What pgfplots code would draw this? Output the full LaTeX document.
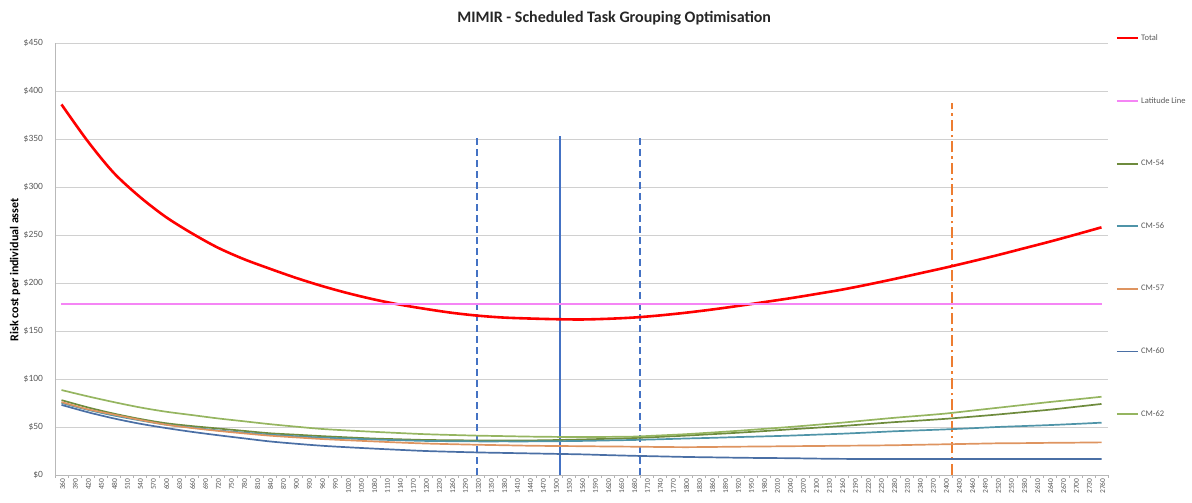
\documentclass[border=0pt]{standalone}
\usepackage{fontspec}
\setmainfont{Carlito}
\usepackage{pgfplots}
\usepackage{pgfplotstable}
\pgfplotsset{compat=1.18}
\definecolor{cmfiftyfour}{HTML}{6E8B3D}
\definecolor{cmfiftysix}{HTML}{4F94A8}
\definecolor{cmfiftyseven}{HTML}{DE9460}
\definecolor{cmsixty}{HTML}{4A6FA5}
\definecolor{cmsixtytwo}{HTML}{95B560}
\definecolor{latpink}{HTML}{F585F5}
\definecolor{vblue}{HTML}{4472C4}
\definecolor{vorange}{HTML}{ED7D31}
\definecolor{gridgray}{HTML}{D0D0D0}
\definecolor{txtgray}{HTML}{595959}

\pgfplotstableread{
x tot c54 c56 c57 c60 c62
360 386 78 75 76 73 88.5
420 348 70.5 68 68.5 65.5 82
480 315 64 62 63 59 76
540 290 58.5 57 57.5 53.5 70.5
600 269 54 52.5 52.5 49 66
660 252 51 49.5 49 45 62.5
720 237 48.5 46.5 46 41.5 59
780 225 46 44.2 43.4 38.2 56
840 215 43.5 42 41 35 53
900 205.5 42 40.4 39.2 32.6 50.4
960 197 40.5 39 37.5 30.5 48
1020 189.5 39.2 38 36.2 28.9 46.4
1080 183 38 37 35 27.5 45
1140 177.5 37.2 36.2 33.8 26.2 43.7
1200 173 36.5 35.5 32.8 25 42.5
1260 169 36.2 35.2 32.1 24.2 41.7
1320 166 36 35 31.5 23.5 41
1380 164 36 35 31 23 40.5
1440 163 36 35 30.5 22.5 40
1500 162.3 36.4 35.2 30.2 22 39.7
1560 162 37 35.5 30 21.5 39.5
1620 162.7 37.7 36 29.7 20.7 39.7
1680 164 38.5 36.5 29.5 20 40
1740 166.2 39.7 37.2 29.2 19.4 41.2
1800 169 41 38 29 18.8 42.5
1860 172.3 42.5 38.7 29.2 18.4 44.2
1920 176 44 39.5 29.5 18 46
1980 180 45.7 40.2 29.7 17.7 48
2040 184 47.5 41 30 17.5 50
2100 188.4 49.2 42 30.2 17.1 52.2
2160 193 51 43 30.5 16.8 54.5
2220 198.3 53 44.2 30.7 16.7 57
2280 204 55 45.5 31 16.7 59.5
2340 210 56.7 46.5 31.5 16.7 61.7
2400 216 58.5 47.5 32 16.7 64
2460 222.4 60.7 48.7 32.5 16.7 67
2520 229 63 50 33 16.7 70
2580 236 65.5 51 33.2 16.7 73
2640 243 68 52 33.5 16.7 76
2700 250.4 71 53.2 33.7 16.7 78.7
2760 258 74 54.5 34 16.7 81.5
}\data

\begin{document}
\begin{tikzpicture}
\path[use as bounding box] (0,0) rectangle (1192pt,503pt);
\begin{axis}[
  at={(55pt,28pt)}, anchor=south west,
  scale only axis, width=1053pt, height=432pt,
  xmin=345, xmax=2775, ymin=0, ymax=450,
  axis x line=bottom, axis y line=left,
  axis line style={draw=gray!55, line width=0.8pt, -},
  ytick={0,50,...,450},
  yticklabel={\$\pgfmathprintnumber{\tick}},
  xtick={360,390,...,2760},
  minor xtick={345,375,...,2775},
  tick align=outside,
  major tick length=0pt, minor tick length=3pt,
  tick style={draw=gray!60, line width=0.6pt},
  ymajorgrids, grid style={draw=gridgray, line width=0.8pt},
  /pgf/number format/assume math mode=true,
  /pgf/number format/1000 sep={},
  x tick label style={rotate=90, anchor=east, font=\fontsize{7.5}{7.5}\selectfont, text=txtgray, yshift=-1pt},
  y tick label style={font=\fontsize{9.5}{10}\selectfont, text=txtgray, xshift=-8.5pt},
  every axis title shift=0pt,
  title={MIMIR - Scheduled Task Grouping Optimisation},
  title style={at={(axis description cs:0.531,1.058)}, anchor=center, font=\bfseries\fontsize{16}{18}\selectfont, text=black!85},
  ylabel={Risk cost per individual asset},
  ylabel style={at={(axis description cs:-0.038,0.475)}, anchor=center, rotate=0, font=\bfseries\fontsize{12}{13}\selectfont},
  legend style={at={(axis description cs:1.007,1.025)}, anchor=north west, draw=none, fill=none,
    font=\fontsize{8.5}{9}\selectfont, text=txtgray, row sep=51.5pt, inner sep=0pt, cells={anchor=west}},
  legend image code/.code={\draw[#1] (0pt,0pt) -- (21pt,0pt);},
]
\addplot[vblue, line width=1.8pt, dash pattern=on 7pt off 4pt, forget plot] coordinates {(1319,0) (1319,353)};
\addplot[vblue, line width=1.8pt, forget plot] coordinates {(1510,0) (1510,353)};
\addplot[vblue, line width=1.8pt, dash pattern=on 7pt off 4pt, forget plot] coordinates {(1695,0) (1695,353)};
\addplot[vorange, line width=1.8pt, dash pattern=on 11pt off 4pt on 2.5pt off 4pt, forget plot] coordinates {(2415,0) (2415,387)};

\addplot[red, line width=2.6pt, smooth] table[x=x, y=tot]{\data};
\addlegendentry{Total}
\addplot[latpink, line width=1.3pt] coordinates {(360,178) (2760,178)};
\addlegendentry{Latitude Line}
\addplot[cmfiftyfour, line width=1.7pt, smooth] table[x=x, y=c54]{\data};
\addlegendentry{CM-54}
\addplot[cmfiftysix, line width=1.7pt, smooth] table[x=x, y=c56]{\data};
\addlegendentry{CM-56}
\addplot[cmfiftyseven, line width=1.7pt, smooth] table[x=x, y=c57]{\data};
\addlegendentry{CM-57}
\addplot[cmsixty, line width=1.7pt, smooth] table[x=x, y=c60]{\data};
\addlegendentry{CM-60}
\addplot[cmsixtytwo, line width=1.7pt, smooth] table[x=x, y=c62]{\data};
\addlegendentry{CM-62}
\end{axis}
\end{tikzpicture}
\end{document}
